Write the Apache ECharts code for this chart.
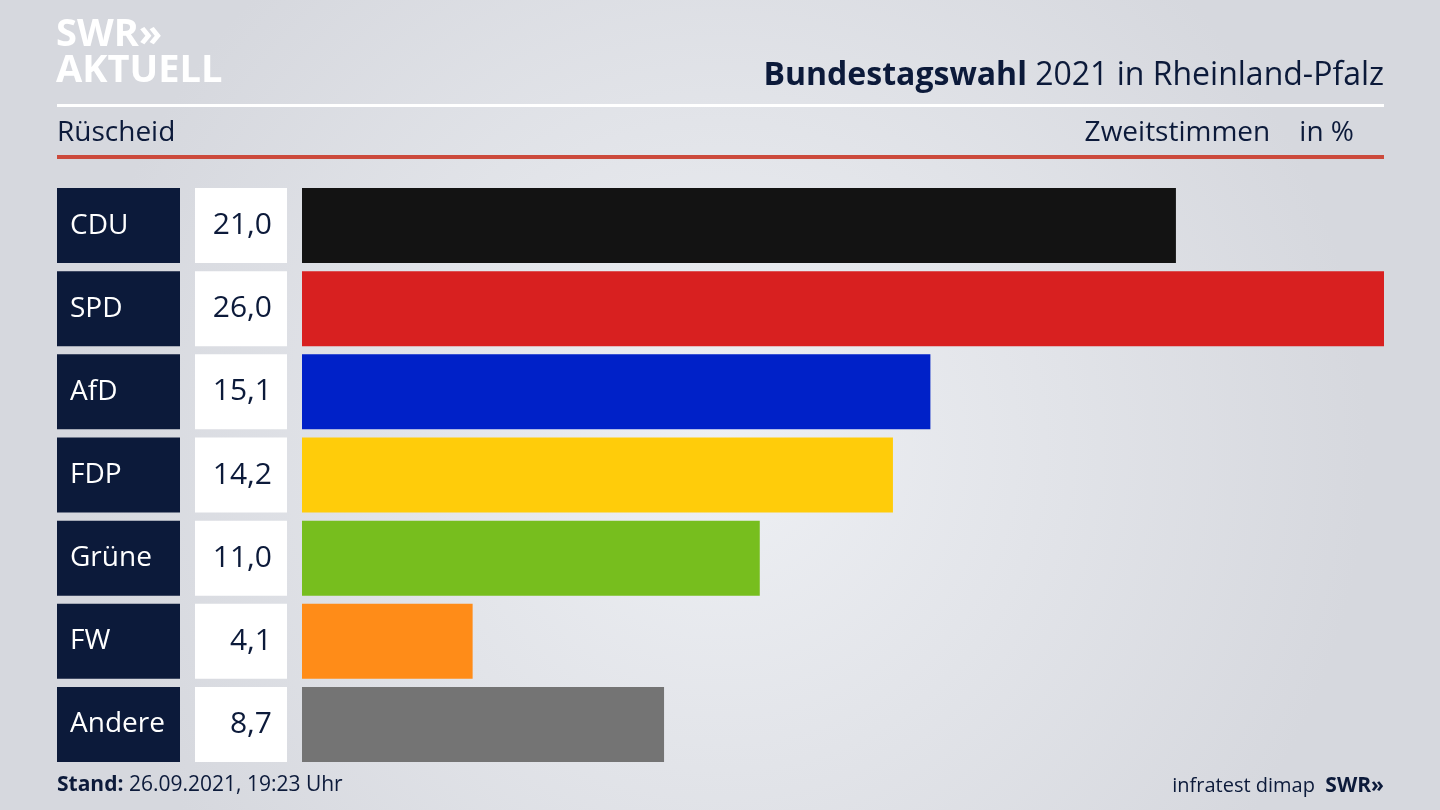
<!DOCTYPE html>
<html><head><meta charset="utf-8">
<script src="https://cdn.jsdelivr.net/npm/echarts@6/dist/echarts.min.js"></script>
<style>html,body{margin:0;padding:0;}#c{width:1440px;height:810px;}</style>
</head><body><div id="c"></div>
<script>
const parties = ['CDU','SPD','AfD','FDP','Grüne','FW','Andere'];
const values = [21.0, 26.0, 15.1, 14.2, 11.0, 4.1, 8.7];
const colors = ['#131313','#d82020','#0021c8','#ffcc0a','#77be1e','#ff8c18','#747474'];
const F = 'Open Sans';
const chart = echarts.init(document.getElementById('c'));
const gTop = 184, gBottom = 44;
function catAxis(i){return {type:'category',gridIndex:i,data:parties,inverse:true,show:false};}
function valAxis(i,max){return {type:'value',gridIndex:i,min:0,max:max,show:false};}
chart.setOption({
  backgroundColor:{type:'radial',x:0.5,y:0.55,r:0.8,colorStops:[{offset:0,color:'#eef0f4'},{offset:1,color:'#d6d8de'}]},
  grid:[
    {left:302,right:56,top:gTop,bottom:gBottom},
    {left:57,width:123,top:gTop,bottom:gBottom},
    {left:195,width:92,top:gTop,bottom:gBottom}
  ],
  xAxis:[valAxis(0,26),valAxis(1,1),valAxis(2,1)],
  yAxis:[catAxis(0),catAxis(1),catAxis(2)],
  series:[
    {type:'bar',xAxisIndex:0,yAxisIndex:0,barWidth:75,silent:true,
     data:values.map((v,i)=>({value:v,itemStyle:{color:colors[i]}}))},
    {type:'bar',xAxisIndex:1,yAxisIndex:1,barWidth:75,silent:true,
     itemStyle:{color:'#0c1a3a'},
     data:parties.map(()=>1),
     label:{show:true,position:'insideLeft',offset:[8,0],color:'#fff',fontFamily:F,fontSize:28,formatter:p=>parties[p.dataIndex]}},
    {type:'bar',xAxisIndex:2,yAxisIndex:2,barWidth:75,silent:true,
     itemStyle:{color:'#ffffff'},
     data:values.map(()=>1),
     label:{show:true,position:'insideRight',offset:[-10,0],color:'#0c1a3a',fontFamily:F,fontSize:30,formatter:p=>values[p.dataIndex].toFixed(1).replace('.',',')}}
  ],
  graphic:[
    {type:'text',left:56,top:16,style:{text:'SWR»',fill:'#fff',font:'bold 38px '+F}},
    {type:'text',left:56,top:52,style:{text:'AKTUELL',fill:'#fff',font:'bold 38px '+F}},
    {type:'text',right:56,top:60,style:{text:'{b|Bundestagswahl} 2021 in Rheinland-Pfalz',fill:'#0c1a3a',font:'32px '+F,rich:{b:{fontWeight:'bold',fontSize:32,fontFamily:F,fill:'#0c1a3a'}}}},
    {type:'rect',shape:{x:57,y:104,width:1327,height:3},style:{fill:'#ffffff'}},
    {type:'text',left:57,top:119,style:{text:'Rüscheid',fill:'#0c1a3a',font:'28px '+F}},
    {type:'text',right:86,top:119,style:{text:'Zweitstimmen    in %',fill:'#0c1a3a',font:'28px '+F}},
    {type:'rect',shape:{x:57,y:155,width:1327,height:4},style:{fill:'#cc4a3c'}},
    {type:'text',left:57,top:775,style:{text:'{b|Stand:} 26.09.2021, 19:23 Uhr',fill:'#0c1a3a',font:'21px '+F,rich:{b:{fontWeight:'bold',fontSize:21,fontFamily:F,fill:'#0c1a3a'}}}},
    {type:'text',right:56,top:776,style:{text:'infratest dimap  {b|SWR»}',fill:'#0c1a3a',font:'20px '+F,rich:{b:{fontWeight:'bold',fontSize:21,fontFamily:F,fill:'#0c1a3a'}}}}
  ]
});
</script></body></html>
